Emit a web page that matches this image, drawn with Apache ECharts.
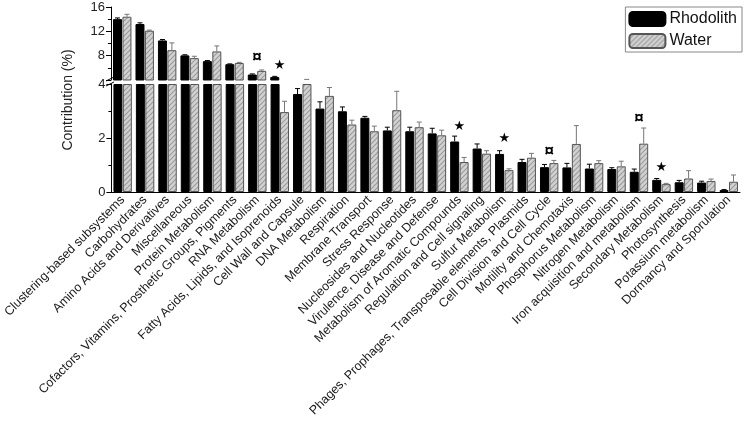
<!DOCTYPE html>
<html>
<head>
<meta charset="utf-8">
<script src="https://cdn.jsdelivr.net/npm/echarts@6/dist/echarts.min.js"></script>
<style>
  html, body { margin: 0; padding: 0; background: #fff; }
  #eCharts { width: 751px; height: 425px; }
</style>
</head>
<body>
<div id="eCharts"></div>
<script>
var categories = ['Clustering-based subsystems', 'Carbohydrates', 'Amino Acids and Derivatives', 'Miscellaneous',
    'Protein Metabolism', 'Cofactors, Vitamins, Prosthetic Groups, Pigments', 'RNA Metabolism',
    'Fatty Acids, Lipids, and Isoprenoids', 'Cell Wall and Capsule', 'DNA Metabolism', 'Respiration',
    'Membrane Transport', 'Stress Response', 'Nucleosides and Nucleotides', 'Virulence, Disease and Defense',
    'Metabolism of Aromatic Compounds', 'Regulation and Cell signaling', 'Sulfur Metabolism',
    'Phages, Prophages, Transposable elements, Plasmids', 'Cell Division and Cell Cycle', 'Motility and Chemotaxis',
    'Phosphorus Metabolism', 'Nitrogen Metabolism', 'Iron acquisition and metabolism', 'Secondary Metabolism',
    'Photosynthesis', 'Potassium metabolism', 'Dormancy and Sporulation'];

var rhodolith = [14.0, 13.2, 10.5, 8.05, 7.1, 6.6, 4.9, 4.5, 3.63, 3.09, 2.99, 2.75, 2.28, 2.25, 2.17, 1.87,
    1.61, 1.41, 1.11, 0.92, 0.91, 0.87, 0.85, 0.75, 0.45, 0.36, 0.35, 0.07];
var water = [14.4, 12.1, 8.9, 7.6, 8.7, 6.8, 5.5, 2.96, 4.05, 3.56, 2.5, 2.25, 3.03, 2.4, 2.1, 1.11,
    1.42, 0.81, 1.27, 1.07, 1.78, 1.07, 0.95, 1.79, 0.29, 0.5, 0.41, 0.38];
var rhodolithErr = [0.2, 0.2, 0.15, 0.1, 0.1, 0.05, 0.1, 0.1, 0.2, 0.25, 0.16, 0.05, 0.12, 0.15, 0.19, 0.2,
    0.17, 0.12, 0.1, 0.1, 0.15, 0.16, 0.05, 0.1, 0.05, 0.07, 0.05, 0.02];
var waterErr = [0.4, 0.1, 1.2, 0.3, 0.9, 0.1, 0.15, 0.4, 0.05, 0.31, 0.16, 0.19, 0.7, 0.19, 0.19, 0.17,
    0.11, 0.05, 0.16, 0.1, 0.68, 0.09, 0.19, 0.58, 0.03, 0.29, 0.07, 0.25];

// significance marks: [category index, height, symbol]
var marks = [[6, 7.7, '¤'], [7, 6.4, '*'], [15, 2.43, '*'], [17, 1.98, '*'],
    [19, 1.5, '¤'], [23, 2.73, '¤'], [24, 0.9, '*']];

var lowTicks = [0, 4, 2];     // min, max, interval of lower part
var highTicks = [4, 16, 4];   // min, max, interval of upper part

var FONT = 'Liberation Sans, Arial, sans-serif';

var hatch = (function () {
    var c = document.createElement('canvas');
    c.width = 5; c.height = 5;
    var ctx = c.getContext('2d');
    ctx.fillStyle = '#d2d2d2';
    ctx.fillRect(0, 0, 5, 5);
    ctx.strokeStyle = '#9c9c9c';
    ctx.lineWidth = 1.2;
    ctx.beginPath();
    ctx.moveTo(-1, 6); ctx.lineTo(6, -1);
    ctx.moveTo(-1, 1); ctx.lineTo(1, -1);
    ctx.moveTo(4, 6); ctx.lineTo(6, 4);
    ctx.stroke();
    return c;
})();

var myChart = echarts.init(document.getElementById('eCharts'));

function barSeries(name, vals, upper, style) {
    return {
        name: name,
        type: 'bar',
        xAxisIndex: upper ? 0 : 1,
        yAxisIndex: upper ? 0 : 1,
        barWidth: '40%',
        barGap: '5%',
        itemStyle: style,
        data: vals.map(function (v) {
            if (upper) return v > highTicks[0] ? v : '-';
            return Math.min(v, lowTicks[1]);
        })
    };
}

function errSeries(vals, errs, side, upper, color) {
    var data = [];
    vals.forEach(function (v, i) {
        if ((upper && v > highTicks[0]) || (!upper && v <= lowTicks[1])) data.push([i, v, errs[i]]);
    });
    return {
        type: 'custom',
        xAxisIndex: upper ? 0 : 1,
        yAxisIndex: upper ? 0 : 1,
        z: 5,
        silent: true,
        encode: {x: 0, y: 1},
        data: data,
        renderItem: function (params, api) {
            var base = api.coord([api.value(0), api.value(1)]);
            var top = api.coord([api.value(0), api.value(1) + api.value(2)]);
            var band = api.size([1, 0])[0];
            var x = base[0] + side * band * 0.21;
            var st = {stroke: color, lineWidth: 1};
            return {
                type: 'group',
                children: [
                    {type: 'line', shape: {x1: x, y1: base[1], x2: x, y2: top[1]}, style: st},
                    {type: 'line', shape: {x1: x - 2.5, y1: top[1], x2: x + 2.5, y2: top[1]}, style: st}
                ]
            };
        }
    };
}

function markSeries(upper) {
    var data = marks.filter(function (m) {
        return upper ? m[1] > highTicks[0] : m[1] <= lowTicks[1];
    });
    return {
        type: 'custom',
        xAxisIndex: upper ? 0 : 1,
        yAxisIndex: upper ? 0 : 1,
        z: 6,
        silent: true,
        encode: {x: 0, y: 1},
        data: data,
        renderItem: function (params, api) {
            var p = api.coord([api.value(0), api.value(1)]);
            var s = data[params.dataIndex][2];
            // the star glyph stands for the "*" mark, drawn as in the figure
            return {
                type: 'text',
                x: p[0], y: p[1],
                style: {
                    text: s === '*' ? '★' : s, fill: '#000', align: 'center', verticalAlign: 'middle',
                    font: s === '*' ? '13px DejaVu Sans, sans-serif' : 'bold 17px ' + FONT
                }
            };
        }
    };
}

var blackStyle = {color: '#000', borderColor: '#000', borderWidth: 1};
var grayStyle = {color: {image: hatch, repeat: 'repeat'}, borderColor: '#555', borderWidth: 1};

var yLabel = {color: '#222', fontSize: 13, fontFamily: FONT, margin: 6};

option = {
    animation: false,
    textStyle: {fontFamily: FONT},
    legend: {
        data: ['Rhodolith', 'Water'],
        orient: 'vertical',
        right: 9,
        top: 7,
        padding: [4, 5, 3, 3],
        itemGap: 6,
        itemWidth: 36,
        itemHeight: 14,
        borderColor: '#888',
        borderWidth: 1,
        textStyle: {fontSize: 16, color: '#111', fontFamily: FONT, padding: [0, 0, 0, -1]}
    },
    grid: [
        {left: 111, right: 11, top: 7, height: 73},
        {left: 111, right: 11, top: 84, height: 108}
    ],
    xAxis: [
        {gridIndex: 0, type: 'category', data: categories, show: false},
        {
            gridIndex: 1, type: 'category', data: categories,
            axisLine: {lineStyle: {color: '#000', width: 1}},
            axisTick: {length: 4, lineStyle: {color: '#000'}},
            axisLabel: {interval: 0, rotate: 45, fontSize: 12.5, color: '#1a1a1a', fontFamily: FONT, margin: 6}
        }
    ],
    yAxis: [
        {
            gridIndex: 0, type: 'value', min: highTicks[0], max: highTicks[1], interval: highTicks[2],
            axisLine: {show: true, lineStyle: {color: '#000'}},
            axisTick: {show: true, length: 5, lineStyle: {color: '#000'}},
            minorTick: {show: true, splitNumber: 2, length: 3, lineStyle: {color: '#000'}},
            splitLine: {show: false},
            axisLabel: Object.assign({showMinLabel: false}, yLabel)
        },
        {
            gridIndex: 1, type: 'value', min: lowTicks[0], max: lowTicks[1], interval: lowTicks[2],
            axisLine: {show: true, lineStyle: {color: '#000'}},
            axisTick: {show: true, length: 5, lineStyle: {color: '#000'}},
            minorTick: {show: true, splitNumber: 2, length: 3, lineStyle: {color: '#000'}},
            splitLine: {show: false},
            axisLabel: yLabel
        }
    ],
    graphic: [
        {
            type: 'text', x: 68, y: 100, rotation: Math.PI / 2,
            style: {text: 'Contribution (%)', font: '14px ' + FONT, fill: '#222', align: 'center', verticalAlign: 'middle'}
        },
        {type: 'line', shape: {x1: 106, y1: 81, x2: 114, y2: 77}, style: {stroke: '#000', lineWidth: 1}},
        {type: 'line', shape: {x1: 106, y1: 86, x2: 114, y2: 82}, style: {stroke: '#000', lineWidth: 1}}
    ],
    series: [
        barSeries('Rhodolith', rhodolith, true, blackStyle),
        barSeries('Water', water, true, grayStyle),
        barSeries('Rhodolith', rhodolith, false, blackStyle),
        barSeries('Water', water, false, grayStyle),
        errSeries(rhodolith, rhodolithErr, -1, true, '#000'),
        errSeries(water, waterErr, 1, true, '#777'),
        errSeries(rhodolith, rhodolithErr, -1, false, '#000'),
        errSeries(water, waterErr, 1, false, '#777'),
        markSeries(true),
        markSeries(false)
    ]
};

myChart.setOption(option);
</script>
</body>
</html>
